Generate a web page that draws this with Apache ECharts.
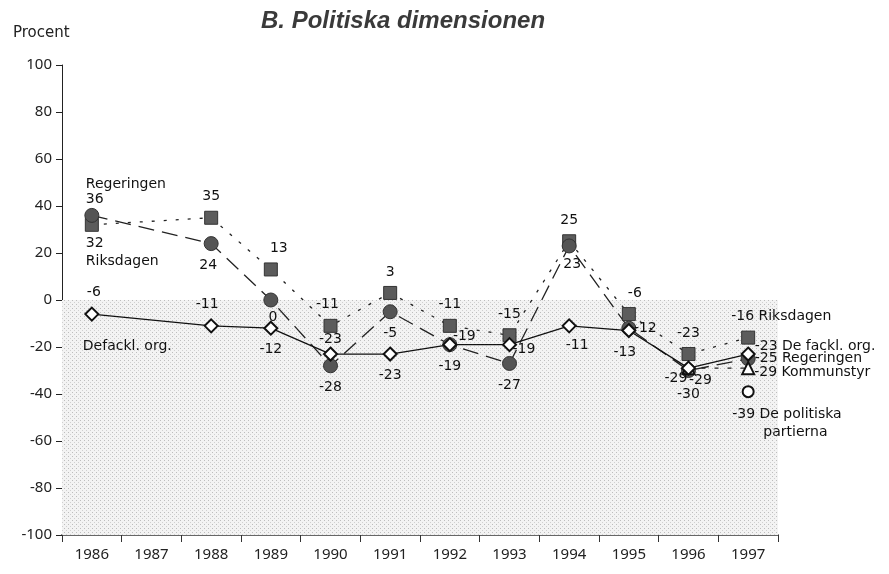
<!DOCTYPE html>
<html>
<head>
<meta charset="utf-8">
<script src="https://cdn.jsdelivr.net/npm/echarts@6.0.0/dist/echarts.min.js"></script>
<style>
  html, body { margin: 0; padding: 0; background: #fff; }
  #chart { width: 889px; height: 574px; }
</style>
</head>
<body>
<div id="chart"></div>
<script>
// values
var years = ['1986', '1987', '1988', '1989', '1990', '1991', '1992', '1993', '1994', '1995', '1996', '1997'];
var yTicks = [-100, 100, 20];
var riksdagen = [32, null, 35, 13, -11, 3, -11, -15, 25, -6, -23, -16];
var regeringen = [36, null, 24, 0, -28, -5, -19, -27, 23, -12, -30, -25];
var defackl = [-6, null, -11, -12, -23, -23, -19, -19, -11, -13, -29, -23];
var kommunstyr = [null, null, null, null, null, null, null, null, null, null, -29, -29];
var depolitiska = [null, null, null, null, null, null, null, null, null, null, null, -39];

var FONT = 'DejaVu Sans';

// label placement per point: [position, dx, dy, align, text template, line height]
var riksLabels = {
	0: ['bottom', -6, -2, 'left', '{v}\nRiksdagen'],
	3: ['top', 8, 0],
	4: ['top', -3, 0],
	9: ['top', 6, 0],
	11: ['top', -17, 0, 'left', '{v} Riksdagen']
};
var regLabels = {
	0: ['top', -6, 4, 'left', 'Regeringen\n{v}', 15],
	1: ['bottom', 0, 0], 2: ['bottom', -3, 0], 3: ['bottom', 2, -4], 4: ['bottom', 0, 0],
	5: ['bottom', 0, 0], 6: ['right', 2, -8], 7: ['bottom', 0, 0], 8: ['bottom', 3, -3],
	9: ['right', 4, 0], 10: ['bottom', 0, 2], 11: ['right', -6, 0, 'left', '{v} Regeringen']
};
var defLabels = {
	0: ['top', 2, 0],
	2: ['top', -4, 0], 3: ['bottom', 0, 0], 4: ['top', 0, 7], 5: ['bottom', 0, 0],
	6: ['bottom', 0, 0], 7: ['right', 2, 5], 8: ['bottom', 8, -2], 9: ['bottom', -4, 0],
	10: ['left', 0, 10], 11: ['right', -6, -8, 'left', '{v} De fackl. org.']
};
var komLabels = {
	10: ['right', 0, 12],
	11: ['right', -6, 4, 'left', '{v} Kommunstyr']
};
var depLabels = {
	11: ['bottom', -16, 2, 'left', '{v} De politiska\n       partierna']
};

function points(values, layout) {
	return values.map(function (v, i) {
		if (v === null) return '-';
		var l = layout[i] || ['top', 0, 0];
		var text = (l[4] || '{v}').replace('{v}', v);
		return {
			value: v,
			label: {
				show: true,
				position: l[0],
				offset: [l[1], l[2]],
				align: l[3] || 'center',
				formatter: text,
				lineHeight: l[5] || 18
			}
		};
	});
}

// dotted grey texture for the negative half
var tex = document.createElement('canvas');
tex.width = 4; tex.height = 4;
var ctx = tex.getContext('2d');
ctx.fillStyle = '#f3f3f3';
ctx.fillRect(0, 0, 4, 4);
ctx.fillStyle = '#bdbdbd';
ctx.fillRect(0, 0, 1, 1);
ctx.fillStyle = '#d0d0d0';
ctx.fillRect(2, 2, 1, 1);

var labelStyle = { fontFamily: FONT, fontSize: 14, color: '#111' };

var chart = echarts.init(document.getElementById('chart'));
var option = {
	animation: false,
	backgroundColor: '#fff',
	title: [{
		text: 'B. Politiska dimensionen',
		left: 256, top: 4,
		textStyle: { fontFamily: 'Liberation Sans', fontSize: 24, fontWeight: 'bold', fontStyle: 'italic', color: '#3a3a3a' }
	}, {
		text: 'Procent',
		left: 8, top: 21,
		textStyle: { fontFamily: FONT, fontSize: 15, fontWeight: 'normal', color: '#222' }
	}],
	grid: { left: 62, right: 111, top: 65, bottom: 39 },
	xAxis: {
		type: 'category',
		data: years,
		boundaryGap: true,
		axisLine: { onZero: false, lineStyle: { color: '#666', width: 2 } },
		axisTick: { show: true, length: 7, lineStyle: { color: '#333' } },
		axisLabel: { fontFamily: 'Noto Sans', fontSize: 15, color: '#222', margin: 12 },
		splitLine: { show: false }
	},
	yAxis: {
		type: 'value',
		min: yTicks[0], max: yTicks[1], interval: yTicks[2],
		axisLine: { show: true, lineStyle: { color: '#222', width: 1 } },
		axisTick: { show: true, length: 6, lineStyle: { color: '#222' } },
		axisLabel: { fontFamily: 'Noto Sans', fontSize: 15, color: '#222', margin: 10 },
		splitLine: { show: false }
	},
	series: [{
		name: 'Riksdagen',
		type: 'line',
		connectNulls: true,
		data: points(riksdagen, riksLabels),
		symbol: 'rect', symbolSize: 13,
		itemStyle: { color: '#5c5c5c', borderColor: '#333', borderWidth: 1 },
		lineStyle: { color: '#222', width: 1.3, type: [3, 9] },
		label: labelStyle,
		markArea: {
			silent: true,
			itemStyle: { color: { image: tex, repeat: 'repeat' } },
			data: [[{ yAxis: 0 }, { yAxis: -100 }]]
		}
	}, {
		name: 'Regeringen',
		type: 'line',
		connectNulls: true,
		data: points(regeringen, regLabels),
		symbol: 'circle', symbolSize: 14,
		itemStyle: { color: '#555', borderColor: '#333', borderWidth: 1 },
		lineStyle: { color: '#222', width: 1.3, type: [16, 8] },
		label: labelStyle
	}, {
		name: 'Kommunstyr',
		type: 'line',
		data: points(kommunstyr, komLabels),
		symbol: 'triangle', symbolSize: 12,
		itemStyle: { color: '#fff', borderColor: '#111', borderWidth: 2 },
		lineStyle: { color: '#222', width: 1.2, type: [4, 9] },
		label: labelStyle
	}, {
		name: 'De politiska partierna',
		type: 'line',
		data: points(depolitiska, depLabels),
		symbol: 'circle', symbolSize: 11,
		itemStyle: { color: '#fff', borderColor: '#111', borderWidth: 2 },
		lineStyle: { color: '#222', width: 1.2 },
		label: labelStyle
	}, {
		name: 'De fackl. org.',
		type: 'line',
		connectNulls: true,
		data: points(defackl, defLabels),
		symbol: 'diamond', symbolSize: 13,
		itemStyle: { color: '#fff', borderColor: '#111', borderWidth: 2 },
		lineStyle: { color: '#111', width: 1.3 },
		label: labelStyle,
		markPoint: {
			symbol: 'circle', symbolSize: 0,
			silent: true,
			label: {
				show: true, position: 'bottom', align: 'left', offset: [-9, 20],
				fontFamily: FONT, fontSize: 14, color: '#111',
				formatter: 'Defackl. org.'
			},
			data: [{ coord: [years[0], defackl[0]] }]
		}
	}]
};
chart.setOption(option);
</script>
</body>
</html>
